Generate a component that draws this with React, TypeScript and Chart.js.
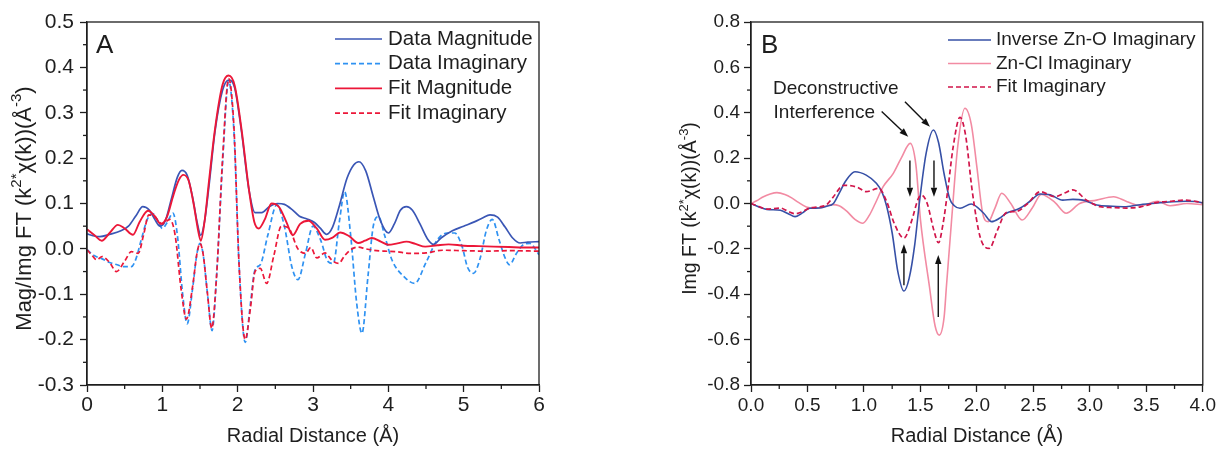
import React, { useEffect, useRef } from "react";
import { Chart, registerables } from "chart.js";

Chart.register(...registerables);

const FONT = "'Liberation Sans', Arial, Helvetica, sans-serif";
const INK = "#1e1e1e";

// ---------------- Panel A data (x: Radial Distance Å, y: FT) ----------------
const aDataMag: [number, number][] = [
  [0, 0.033], [0.08, 0.029], [0.17, 0.027], [0.3, 0.032], [0.45, 0.04], [0.55, 0.05], [0.65, 0.073],
  [0.74, 0.093], [0.83, 0.085], [0.9, 0.065], [0.97, 0.05], [1.04, 0.062], [1.12, 0.11], [1.2, 0.158],
  [1.26, 0.173], [1.33, 0.162], [1.4, 0.115], [1.46, 0.06], [1.51, 0.03], [1.56, 0.06], [1.62, 0.14],
  [1.7, 0.26], [1.8, 0.35], [1.88, 0.372], [1.96, 0.355], [2.05, 0.26], [2.15, 0.13], [2.23, 0.08],
  [2.32, 0.08], [2.42, 0.093], [2.53, 0.1], [2.62, 0.098], [2.72, 0.087], [2.82, 0.072], [2.92, 0.066],
  [3.02, 0.058], [3.1, 0.045], [3.18, 0.032], [3.26, 0.048], [3.35, 0.095], [3.45, 0.155], [3.54, 0.185],
  [3.61, 0.192], [3.7, 0.172], [3.8, 0.115], [3.9, 0.06], [4.0, 0.035], [4.08, 0.055], [4.16, 0.085],
  [4.24, 0.093], [4.32, 0.085], [4.42, 0.055], [4.52, 0.022], [4.6, 0.01], [4.7, 0.024], [4.85, 0.04],
  [5.0, 0.05], [5.15, 0.06], [5.25, 0.068], [5.35, 0.075], [5.45, 0.07], [5.55, 0.048], [5.65, 0.024],
  [5.75, 0.013], [5.85, 0.015], [6.0, 0.016],
];

const aDataImag: [number, number][] = [
  [0, -0.002], [0.1, -0.015], [0.2, -0.022], [0.3, -0.03], [0.4, -0.035], [0.48, -0.039], [0.59, -0.039],
  [0.65, -0.022], [0.72, 0.02], [0.8, 0.065], [0.87, 0.078], [0.94, 0.062], [1.0, 0.045], [1.07, 0.06],
  [1.14, 0.079], [1.2, 0.03], [1.27, -0.1], [1.33, -0.165], [1.4, -0.09], [1.46, -0.01], [1.5, 0.012],
  [1.54, -0.01], [1.6, -0.1], [1.66, -0.18], [1.72, -0.06], [1.8, 0.19], [1.88, 0.37], [1.95, 0.26],
  [2.02, -0.04], [2.1, -0.206], [2.17, -0.12], [2.23, -0.046], [2.3, -0.035], [2.4, 0.03], [2.52, 0.097],
  [2.62, 0.05], [2.72, -0.04], [2.8, -0.068], [2.9, -0.01], [3.0, 0.05], [3.1, 0.02], [3.2, -0.028],
  [3.27, -0.032], [3.35, 0.06], [3.42, 0.126], [3.5, 0.03], [3.58, -0.12], [3.65, -0.186], [3.73, -0.06],
  [3.8, 0.05], [3.87, 0.071], [3.95, 0.03], [4.05, -0.025], [4.2, -0.06], [4.35, -0.076], [4.5, -0.03],
  [4.65, 0.02], [4.78, 0.035], [4.88, 0.035], [4.98, 0.005], [5.05, -0.04], [5.13, -0.054], [5.22, -0.02],
  [5.3, 0.04], [5.38, 0.065], [5.47, 0.02], [5.55, -0.02], [5.61, -0.035], [5.7, -0.01], [5.8, 0.01],
  [5.88, 0.012], [5.95, 0.0], [6.0, -0.013],
];

const aFitMag: [number, number][] = [
  [0, 0.043], [0.1, 0.03], [0.195, 0.018], [0.3, 0.035], [0.41, 0.053], [0.5, 0.045], [0.61, 0.031],
  [0.7, 0.06], [0.81, 0.084], [0.9, 0.072], [0.98, 0.055], [1.06, 0.07], [1.15, 0.12], [1.22, 0.152],
  [1.28, 0.163], [1.35, 0.15], [1.42, 0.095], [1.47, 0.045], [1.51, 0.018], [1.56, 0.06], [1.62, 0.15],
  [1.7, 0.265], [1.8, 0.362], [1.88, 0.382], [1.96, 0.36], [2.05, 0.265], [2.15, 0.13], [2.22, 0.06],
  [2.28, 0.045], [2.36, 0.065], [2.45, 0.1], [2.55, 0.092], [2.65, 0.058], [2.73, 0.03], [2.83, 0.055],
  [2.94, 0.062], [3.05, 0.045], [3.16, 0.02], [3.26, 0.025], [3.36, 0.036], [3.48, 0.028], [3.6, 0.013],
  [3.69, 0.018], [3.78, 0.024], [3.9, 0.016], [4.0, 0.009], [4.12, 0.012], [4.24, 0.016], [4.36, 0.011],
  [4.49, 0.005], [4.65, 0.008], [4.8, 0.01], [5.0, 0.007], [5.2, 0.006], [5.4, 0.005], [5.6, 0.004],
  [5.8, 0.003], [6.0, 0.003],
];

const aFitImag: [number, number][] = [
  [0, -0.002], [0.07, -0.015], [0.13, -0.024], [0.2, -0.017], [0.3, -0.03], [0.39, -0.05], [0.5, -0.027],
  [0.59, -0.006], [0.68, -0.01], [0.75, 0.03], [0.82, 0.075], [0.9, 0.07], [1.0, 0.055], [1.1, 0.065],
  [1.17, 0.03], [1.25, -0.09], [1.32, -0.155], [1.4, -0.085], [1.46, -0.01], [1.5, 0.012], [1.54, -0.01],
  [1.6, -0.1], [1.655, -0.175], [1.72, -0.06], [1.8, 0.2], [1.88, 0.375], [1.95, 0.27], [2.02, -0.04],
  [2.1, -0.2], [2.17, -0.13], [2.23, -0.05], [2.3, -0.043], [2.385, -0.076], [2.48, -0.015], [2.58, 0.05],
  [2.68, 0.045], [2.8, 0.0], [2.9, -0.01], [2.97, 0.003], [3.05, -0.02], [3.16, -0.009], [3.25, -0.025],
  [3.34, -0.032], [3.42, -0.015], [3.5, -0.002], [3.6, 0.004], [3.7, 0.0], [3.8, -0.003], [3.95, -0.005],
  [4.1, -0.006], [4.29, -0.01], [4.5, -0.009], [4.72, -0.003], [5.0, -0.004], [5.3, -0.005], [5.6, -0.004],
  [6.0, -0.005],
];

const aXTickValues = [0, 1, 2, 3, 4, 5, 6];
const aXTickLabels = ["0", "1", "2", "3", "4", "5", "6"];
const aYTickValues = [-0.3, -0.2, -0.1, 0, 0.1, 0.2, 0.3, 0.4, 0.5];
const aYTickLabels = ["-0.3", "-0.2", "-0.1", "0.0", "0.1", "0.2", "0.3", "0.4", "0.5"];

// ---------------- Panel B data ----------------
const bInvZnO: [number, number][] = [
  [0, 0], [0.07, -0.015], [0.14, -0.026], [0.26, -0.03], [0.33, -0.045], [0.39, -0.058], [0.46, -0.04],
  [0.52, -0.021], [0.6, -0.02], [0.67, -0.012], [0.73, 0.0], [0.78, 0.045], [0.84, 0.1], [0.92, 0.14],
  [1.02, 0.125], [1.11, 0.089], [1.16, 0.05], [1.2, -0.01], [1.25, -0.13], [1.3, -0.3], [1.354, -0.386],
  [1.4, -0.33], [1.45, -0.18], [1.49, 0.0], [1.55, 0.22], [1.615, 0.324], [1.66, 0.27], [1.71, 0.13],
  [1.76, 0.02], [1.8, -0.01], [1.85, -0.021], [1.95, -0.002], [2.06, -0.043], [2.13, -0.08], [2.2, -0.065],
  [2.26, -0.043], [2.38, -0.021], [2.47, 0.01], [2.56, 0.042], [2.65, 0.038], [2.76, 0.015], [2.85, 0.018],
  [2.94, 0.015], [3.06, -0.007], [3.2, -0.012], [3.32, -0.014], [3.47, -0.003], [3.6, 0.002], [3.74, 0.008],
  [3.85, 0.01], [3.95, 0.008], [4.0, 0.003],
];

const bZnCl: [number, number][] = [
  [0, 0], [0.05, 0.012], [0.11, 0.03], [0.17, 0.042], [0.23, 0.048], [0.3, 0.04], [0.36, 0.025],
  [0.42, 0.005], [0.49, -0.015], [0.58, -0.021], [0.66, -0.012], [0.72, -0.005], [0.78, -0.01],
  [0.85, -0.035], [0.92, -0.07], [0.99, -0.087], [1.05, -0.05], [1.1, 0.0], [1.17, 0.074], [1.26, 0.133],
  [1.33, 0.2], [1.41, 0.265], [1.46, 0.17], [1.5, -0.07], [1.58, -0.367], [1.63, -0.54], [1.667, -0.58],
  [1.71, -0.5], [1.73, -0.367], [1.776, -0.073], [1.83, 0.25], [1.894, 0.42], [1.95, 0.35], [2.0, 0.16],
  [2.05, -0.04], [2.1, -0.08], [2.16, -0.02], [2.22, 0.045], [2.3, 0.0], [2.4, -0.073], [2.49, -0.02],
  [2.57, 0.04], [2.69, 0.005], [2.79, -0.043], [2.91, 0.0], [3.06, 0.015], [3.21, 0.03], [3.33, 0.008],
  [3.45, -0.01], [3.6, 0.01], [3.71, -0.01], [3.86, 0.0], [4.0, -0.005],
];

const bFitImag: [number, number][] = [
  [0, 0], [0.07, -0.013], [0.14, -0.025], [0.26, -0.02], [0.33, -0.035], [0.39, -0.045], [0.46, -0.035],
  [0.52, -0.02], [0.6, -0.015], [0.67, -0.005], [0.73, 0.03], [0.82, 0.08], [0.94, 0.072], [1.02, 0.052],
  [1.13, 0.067], [1.2, 0.01], [1.27, -0.09], [1.354, -0.153], [1.42, -0.08], [1.48, 0.02], [1.51, 0.037],
  [1.56, 0.0], [1.62, -0.12], [1.66, -0.173], [1.7, -0.09], [1.74, 0.05], [1.79, 0.25], [1.85, 0.38],
  [1.9, 0.3], [1.96, 0.05], [2.03, -0.15], [2.11, -0.198], [2.18, -0.12], [2.26, -0.04], [2.35, -0.035],
  [2.45, 0.0], [2.56, 0.052], [2.69, 0.03], [2.77, 0.045], [2.85, 0.06], [2.97, 0.015], [3.09, -0.014],
  [3.2, -0.018], [3.32, -0.02], [3.45, -0.015], [3.6, 0.005], [3.72, 0.01], [3.84, 0.015], [3.95, 0.008],
  [4.0, 0.003],
];

const bXTickValues = [0, 0.5, 1, 1.5, 2, 2.5, 3, 3.5, 4];
const bXTickLabels = ["0.0", "0.5", "1.0", "1.5", "2.0", "2.5", "3.0", "3.5", "4.0"];
const bYTickValues = [-0.8, -0.6, -0.4, -0.2, 0, 0.2, 0.4, 0.6, 0.8];
const bYTickLabels = ["-0.8", "-0.6", "-0.4", "-0.2", "0.0", "0.2", "0.4", "0.6", "0.8"];

// Annotation (panel B) in data units
const bNotes = [
  { x: 0.195, y: 0.505, text: "Deconstructive" },
  { x: 0.2, y: 0.4, text: "Interference" },
];
const bArrows = [
  { x1: 1.157, y1: 0.405, x2: 1.392, y2: 0.294 },
  { x1: 1.363, y1: 0.449, x2: 1.584, y2: 0.338 },
  { x1: 1.407, y1: 0.19, x2: 1.407, y2: 0.03 },
  { x1: 1.62, y1: 0.19, x2: 1.62, y2: 0.03 },
  { x1: 1.354, y1: -0.36, x2: 1.354, y2: -0.18 },
  { x1: 1.658, y1: -0.5, x2: 1.658, y2: -0.227 },
];

// ---------------- helpers ----------------
type Part = { t: string; sup?: boolean };

const yTitleA: Part[] = [
  { t: "Mag/Img FT (k" }, { t: "2*", sup: true }, { t: "\u03C7(k))(\u00C5" }, { t: "-3", sup: true }, { t: ")" },
];
const yTitleB: Part[] = [
  { t: "Img FT (k" }, { t: "2*", sup: true }, { t: "\u03C7(k))(\u00C5" }, { t: "-3", sup: true }, { t: ")" },
];

const DASH = [5, 3];

const ds = (label: string, pts: [number, number][], color: string, dashed: boolean, width: number, order: number) => ({
  label,
  data: pts.map(([x, y]) => ({ x, y })),
  borderColor: color,
  backgroundColor: color,
  borderWidth: width,
  borderDash: dashed ? DASH : [],
  pointRadius: 0,
  pointHoverRadius: 0,
  cubicInterpolationMode: "monotone",
  fill: false,
  order,
});

const decorPlugin = {
  id: "decor",
  afterDraw(chart: any, _args: any, opts: any) {
    const { ctx, chartArea: ca, scales } = chart;
    const xs = scales.x;
    const ys = scales.y;
    ctx.save();
    // frame
    ctx.strokeStyle = INK;
    ctx.lineWidth = 1.3;
    ctx.strokeRect(ca.left, ca.top, ca.right - ca.left, ca.bottom - ca.top);

    // minor ticks
    const minor = (scale: any, step: number, major: number, horizontal: boolean) => {
      const n = Math.round((scale.max - scale.min) / step);
      for (let i = 0; i <= n; i++) {
        const v = scale.min + i * step;
        const r = v / major;
        if (Math.abs(r - Math.round(r)) < 1e-6) continue;
        const p = scale.getPixelForValue(v);
        ctx.beginPath();
        if (horizontal) {
          ctx.moveTo(p, ca.bottom);
          ctx.lineTo(p, ca.bottom + 4);
        } else {
          ctx.moveTo(ca.left, p);
          ctx.lineTo(ca.left - 4, p);
        }
        ctx.stroke();
      }
    };
    minor(xs, opts.xMinor, opts.xMajor, true);
    minor(ys, opts.yMinor, opts.yMajor, false);

    // y title with superscripts
    {
      const size = opts.yTitleSize;
      const base = `${size}px ${FONT}`;
      const sup = `${Math.round(size * 0.66)}px ${FONT}`;
      ctx.save();
      ctx.translate(opts.yTitleX, (ca.top + ca.bottom) / 2 + opts.yTitleDy);
      ctx.rotate(-Math.PI / 2);
      ctx.fillStyle = INK;
      ctx.textBaseline = "middle";
      ctx.textAlign = "left";
      let total = 0;
      for (const p of opts.yTitle as Part[]) {
        ctx.font = p.sup ? sup : base;
        total += ctx.measureText(p.t).width;
      }
      let x = -total / 2;
      for (const p of opts.yTitle as Part[]) {
        ctx.font = p.sup ? sup : base;
        ctx.fillText(p.t, x, p.sup ? -size * 0.36 : 0);
        x += ctx.measureText(p.t).width;
      }
      ctx.restore();
    }

    // panel letter
    ctx.fillStyle = INK;
    ctx.font = `${opts.letterSize}px ${FONT}`;
    ctx.textAlign = "left";
    ctx.textBaseline = "alphabetic";
    ctx.fillText(opts.letter, ca.left + opts.letterDx, ca.top + opts.letterDy);

    // legend
    const lg = opts.legend;
    ctx.font = `${lg.size}px ${FONT}`;
    ctx.textBaseline = "middle";
    chart.data.datasets.forEach((d: any, i: number) => {
      const y = ca.top + lg.dy + i * lg.gap;
      const x0 = ca.left + lg.dx;
      ctx.save();
      ctx.strokeStyle = d.borderColor;
      ctx.lineWidth = d.borderWidth;
      ctx.setLineDash(d.borderDash || []);
      ctx.beginPath();
      ctx.moveTo(x0, y);
      ctx.lineTo(x0 + lg.len, y);
      ctx.stroke();
      ctx.restore();
      ctx.fillStyle = INK;
      ctx.fillText(d.label, x0 + lg.len + lg.textGap, y);
    });

    // notes
    if (opts.notes) {
      ctx.font = `${opts.noteSize}px ${FONT}`;
      ctx.textBaseline = "middle";
      ctx.textAlign = "left";
      ctx.fillStyle = INK;
      for (const n of opts.notes) {
        ctx.fillText(n.text, xs.getPixelForValue(n.x), ys.getPixelForValue(n.y));
      }
    }
    // arrows
    if (opts.arrows) {
      ctx.strokeStyle = "#111";
      ctx.fillStyle = "#111";
      ctx.lineWidth = 1.4;
      for (const a of opts.arrows) {
        const x1 = xs.getPixelForValue(a.x1);
        const y1 = ys.getPixelForValue(a.y1);
        const x2 = xs.getPixelForValue(a.x2);
        const y2 = ys.getPixelForValue(a.y2);
        const ang = Math.atan2(y2 - y1, x2 - x1);
        const head = 9;
        const hw = 3.2;
        const bx = x2 - head * Math.cos(ang);
        const by = y2 - head * Math.sin(ang);
        ctx.beginPath();
        ctx.moveTo(x1, y1);
        ctx.lineTo(bx, by);
        ctx.stroke();
        ctx.beginPath();
        ctx.moveTo(x2, y2);
        ctx.lineTo(bx + hw * Math.sin(ang), by - hw * Math.cos(ang));
        ctx.lineTo(bx - hw * Math.sin(ang), by + hw * Math.cos(ang));
        ctx.closePath();
        ctx.fill();
      }
    }
    ctx.restore();
  },
};

const axis = (
  min: number,
  max: number,
  values: number[],
  labels: string[],
  tickSize: number,
  padding: number,
  fit: (s: any) => void,
  title?: string,
  titleSize?: number
) => ({
  type: "linear",
  min,
  max,
  afterBuildTicks: (s: any) => {
    s.ticks = values.map((v) => ({ value: v }));
  },
  afterFit: fit,
  ticks: {
    autoSkip: false,
    maxRotation: 0,
    color: INK,
    padding,
    font: { family: FONT, size: tickSize },
    callback: (_v: any, i: number) => labels[i],
  },
  grid: {
    drawOnChartArea: false,
    drawTicks: true,
    tickLength: 7,
    tickWidth: 1.3,
    tickColor: INK,
    color: INK,
  },
  border: { display: true, color: INK, width: 1.3 },
  title: title
    ? {
        display: true,
        text: title,
        color: INK,
        font: { family: FONT, size: titleSize },
        padding: { top: 0, bottom: 2 },
      }
    : { display: false },
});

export default function App() {
  const refA = useRef<HTMLCanvasElement>(null);
  const refB = useRef<HTMLCanvasElement>(null);

  useEffect(() => {
    const chartA = new Chart(refA.current as HTMLCanvasElement, {
      type: "line",
      data: {
        datasets: [
          ds("Data Magnitude", aDataMag, "#3a56b5", false, 1.7, 2),
          ds("Data Imaginary", aDataImag, "#2f92f2", true, 1.7, 3),
          ds("Fit Magnitude", aFitMag, "#ec1738", false, 1.9, 0),
          ds("Fit Imaginary", aFitImag, "#ec1738", true, 1.7, 1),
        ] as any,
      },
      options: {
        responsive: false,
        animation: false,
        events: [],
        layout: { padding: { top: 22, right: 70, bottom: 0, left: 0 } },
        scales: {
          x: axis(0, 6, aXTickValues, aXTickLabels, 21, 1, (s: any) => { s.height = 65; }, "Radial Distance (\u00C5)", 20),
          y: axis(-0.3, 0.5, aYTickValues, aYTickLabels, 21, 6, (s: any) => { s.width = 87; }),
        } as any,
        plugins: {
          legend: { display: false },
          tooltip: { enabled: false },
          decor: {
            xMinor: 0.5, xMajor: 1, yMinor: 0.05, yMajor: 0.1,
            yTitle: yTitleA, yTitleX: 25, yTitleSize: 22, yTitleDy: 5,
            letter: "A", letterSize: 26, letterDx: 9, letterDy: 31,
            legend: { dx: 248, dy: 17, gap: 24.7, len: 47, textGap: 6, size: 20.5 },
          },
        } as any,
      },
      plugins: [decorPlugin],
    });

    const chartB = new Chart(refB.current as HTMLCanvasElement, {
      type: "line",
      data: {
        datasets: [
          ds("Inverse Zn-O Imaginary", bInvZnO, "#3650a6", false, 1.6, 1),
          ds("Zn-Cl Imaginary", bZnCl, "#f28ba3", false, 1.6, 2),
          ds("Fit Imaginary", bFitImag, "#d1154a", true, 1.7, 0),
        ] as any,
      },
      options: {
        responsive: false,
        animation: false,
        events: [],
        layout: { padding: { top: 22, right: 15, bottom: 0, left: 0 } },
        scales: {
          x: axis(0, 4, bXTickValues, bXTickLabels, 19, 2, (s: any) => { s.height = 65; }, "Radial Distance (\u00C5)", 20),
          y: axis(-0.8, 0.8, bYTickValues, bYTickLabels, 19, 4, (s: any) => { s.width = 142; }),
        } as any,
        plugins: {
          legend: { display: false },
          tooltip: { enabled: false },
          decor: {
            xMinor: 0.25, xMajor: 0.5, yMinor: 0.1, yMajor: 0.2,
            yTitle: yTitleB, yTitleX: 82, yTitleSize: 19.5, yTitleDy: 5,
            letter: "B", letterSize: 26, letterDx: 10, letterDy: 31,
            legend: { dx: 197, dy: 18, gap: 23.5, len: 43, textGap: 5, size: 19 },
            notes: bNotes, noteSize: 19,
            arrows: bArrows,
          },
        } as any,
      },
      plugins: [decorPlugin],
    });

    return () => {
      chartA.destroy();
      chartB.destroy();
    };
  }, []);

  return (
    <div style={{ position: "absolute", left: 0, top: 0, width: 1218, height: 450, background: "#fff", overflow: "hidden" }}>
      <canvas ref={refA} width={609} height={450} style={{ position: "absolute", left: 0, top: 0, width: 609, height: 450 }} />
      <canvas ref={refB} width={609} height={450} style={{ position: "absolute", left: 609, top: 0, width: 609, height: 450 }} />
    </div>
  );
}
